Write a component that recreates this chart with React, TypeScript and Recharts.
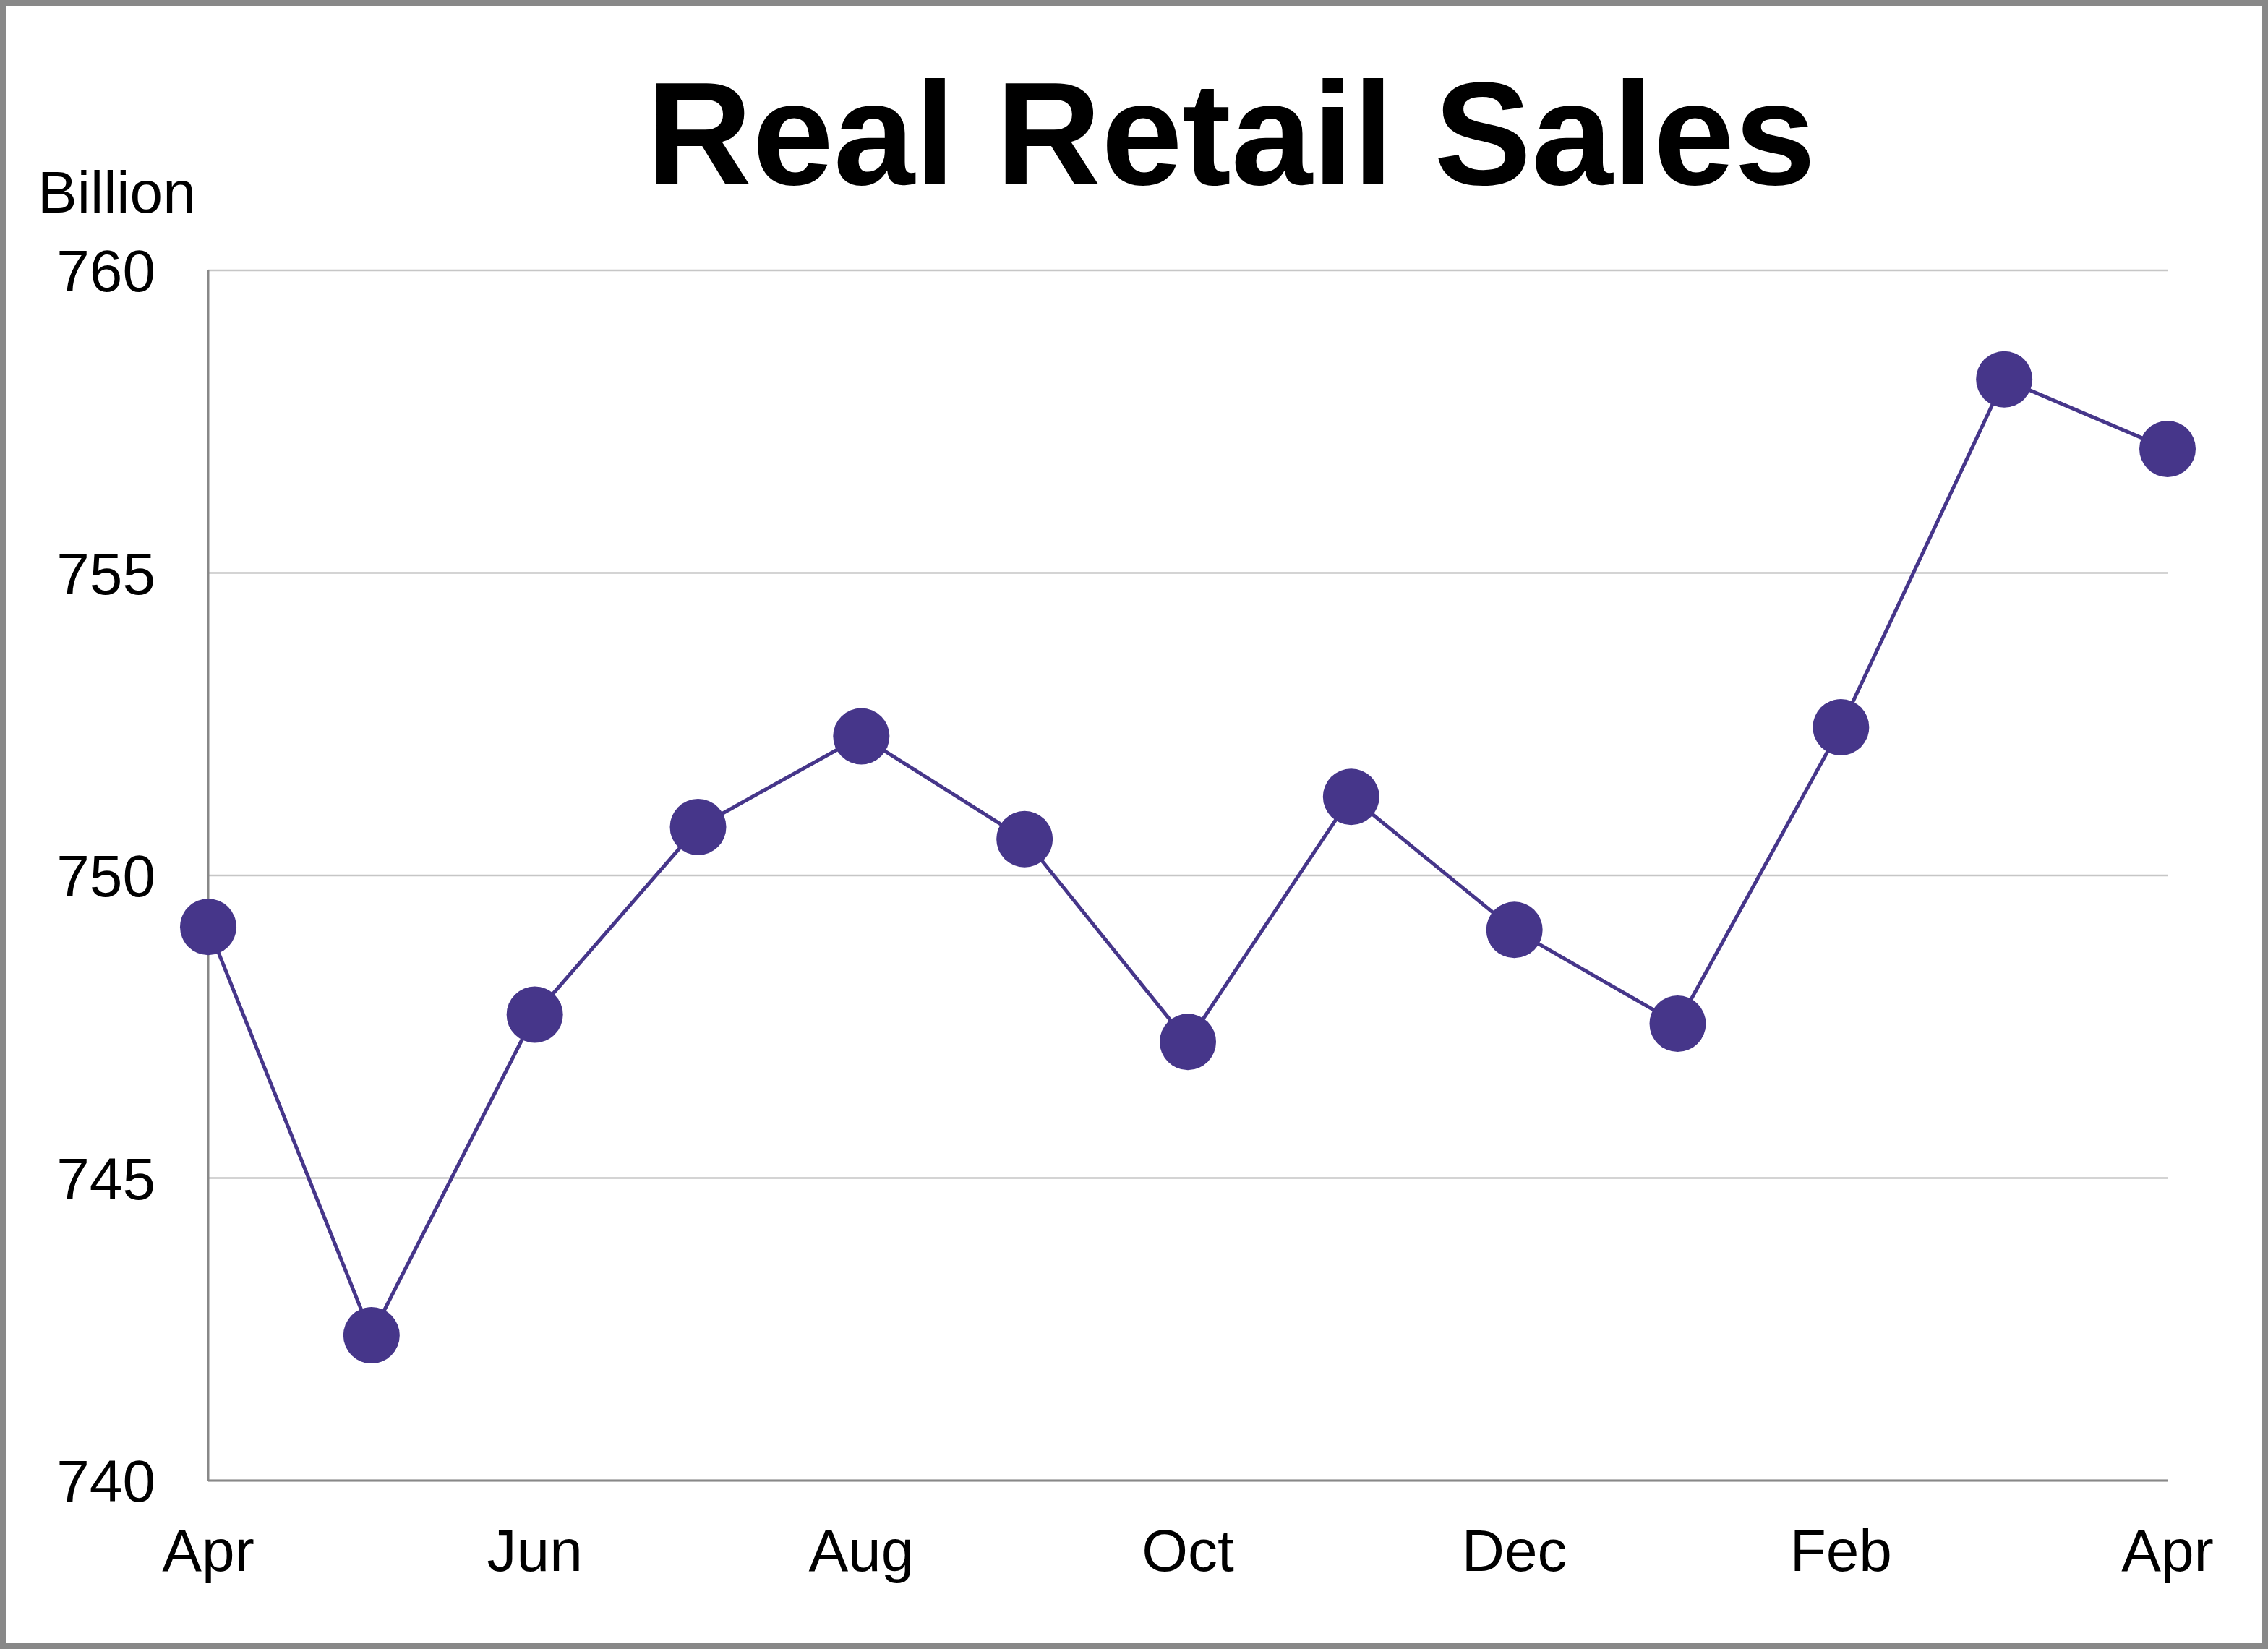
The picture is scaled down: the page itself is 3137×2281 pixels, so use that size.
import { LineChart, Line, XAxis, YAxis, CartesianGrid } from "recharts";

const months = ["Apr", "May", "Jun", "Jul", "Aug", "Sep", "Oct", "Nov", "Dec", "Jan", "Feb", "Mar", "Apr "];
const sales = [749.15, 742.4, 747.7, 750.8, 752.3, 750.6, 747.25, 751.3, 749.1, 747.55, 752.45, 758.2, 757.05];
const yTicks = [740, 745, 750, 755, 760];

const data = months.map((m, i) => ({ month: m, value: sales[i] }));

const W = 3137;
const H = 2281;
const FONT = "'Liberation Sans', Arial, sans-serif";
const PURPLE = "#46368a";

export default function App() {
  return (
    <div
      style={{
        position: "absolute",
        left: 0,
        top: 0,
        width: W,
        height: H,
        background: "#fff",
        boxShadow: "inset 0 0 0 8px #888",
        fontFamily: FONT,
      }}
    >
      <svg width={W} height={H} style={{ position: "absolute", left: 0, top: 0 }}>
        <text x={1703} y={255} textAnchor="middle" fontSize={202} fontWeight="bold" fill="#000" fontFamily={FONT}>
          Real Retail Sales
        </text>
        <text x={52} y={294} fontSize={82} fill="#000" fontFamily={FONT}>
          Billion
        </text>
      </svg>
      <div style={{ position: "absolute", left: 0, top: 0 }}>
        <LineChart
          width={W}
          height={H}
          data={data}
          margin={{ top: 374, right: 139, left: 88, bottom: 133 }}
        >
          <CartesianGrid vertical={false} stroke="#c6c6c6" strokeWidth={2.5} />
          <XAxis
            dataKey="month"
            interval={1}
            height={100}
            tickLine={false}
            tickSize={0}
            tickMargin={67}
            stroke="#888"
            strokeWidth={3}
            tick={{ fill: "#000", fontSize: 82, fontFamily: FONT }}
          />
          <YAxis
            domain={[740, 760]}
            ticks={yTicks}
            width={200}
            tickLine={false}
            tickSize={0}
            tickMargin={73}
            stroke="#888"
            strokeWidth={3}
            tick={{ fill: "#000", fontSize: 82, fontFamily: FONT }}
          />
          <Line
            type="linear"
            dataKey="value"
            stroke={PURPLE}
            strokeWidth={5}
            dot={{ r: 39, fill: PURPLE, stroke: "none" }}
            activeDot={false}
            isAnimationActive={false}
          />
        </LineChart>
      </div>
    </div>
  );
}
